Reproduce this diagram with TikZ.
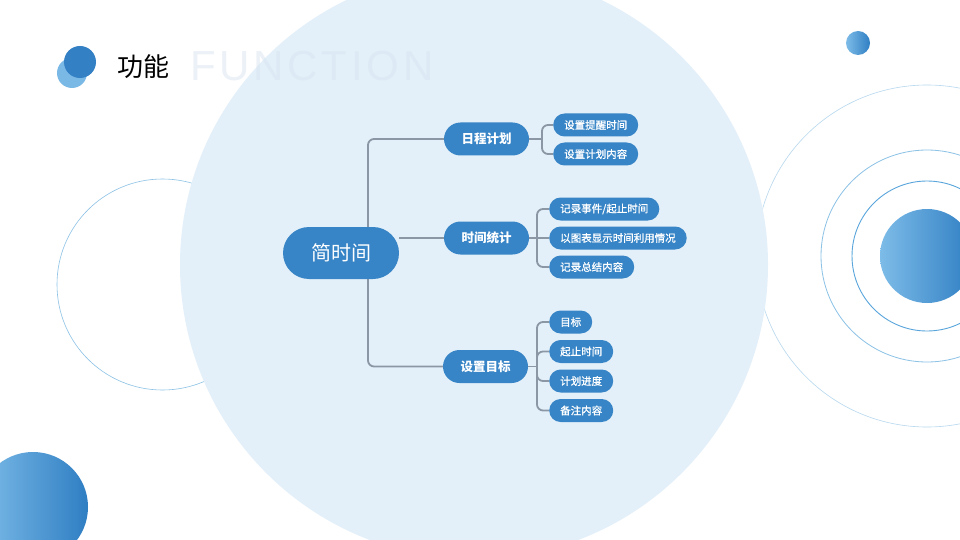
\documentclass[tikz,border=0pt]{standalone}
\usepackage{fontspec}
\newfontfamily\cjk{Noto Sans CJK SC}
\newfontfamily\cjkmid[FakeBold=1]{Noto Sans CJK SC}
\newfontfamily\latinthin[LetterSpace=9]{Liberation Sans}
\definecolor{nodeblue}{HTML}{3784C6}
\definecolor{darkdot}{HTML}{3480C4}
\definecolor{lightdot}{HTML}{7AB8E6}
\definecolor{bigfill}{HTML}{E3F0F9}
\definecolor{conncol}{HTML}{8C97A5}
\definecolor{ringA}{HTML}{5AA6DC}
\definecolor{ringB}{HTML}{8CC2E6}
\definecolor{ringC}{HTML}{B8D8EE}
\definecolor{gradL}{HTML}{7DBCE8}
\definecolor{gradR}{HTML}{2F7EC3}
\definecolor{ghost}{HTML}{D8E4F0}
\pgfdeclarelayer{deco}
\pgfdeclarelayer{lines}
\pgfsetlayers{deco,lines,main}
\begin{document}
\begin{tikzpicture}[x=1pt,y=-1pt,
  rootnode/.style={fill=nodeblue, text=white, font=\cjk\fontsize{20}{22}\selectfont,
    minimum width=116pt, minimum height=52pt, rounded corners=26pt, inner sep=0pt},
  lonenode/.style={fill=nodeblue, text=white, font=\cjk\bfseries\fontsize{12.5}{14}\selectfont,
    minimum width=85pt, minimum height=33pt, rounded corners=16.5pt, inner sep=0pt},
  ltwonode/.style={fill=nodeblue, text=white, font=\cjkmid\fontsize{10.5}{12}\selectfont,
    minimum height=23pt, rounded corners=11.5pt, inner xsep=11pt, inner ysep=0pt, anchor=west},
  conn/.style={draw=conncol, line width=1.8pt, rounded corners=6pt},
  ring/.style={line width=0.6pt}
]
\useasboundingbox (0,0) rectangle (960,540);
\clip (0,0) rectangle (960,540);
\begin{pgfonlayer}{deco}
  \fill[white] (0,0) rectangle (960,540);
  \draw[ring, ringB] (162.5,284.5) circle[radius=105.5pt];
  \draw[ring, ringC] (927,256) circle[radius=171pt];
  \draw[ring, ringB, line width=0.8pt] (927,256) circle[radius=106pt];
  \draw[ring, ringA, line width=0.9pt] (927,256) circle[radius=75pt];
  \shade[left color=gradL, right color=gradR] (927,256) circle[radius=47pt];
  \shade[left color=gradL, right color=gradR] (858,43) circle[radius=12pt];
  \shade[left color=gradL, right color=gradR] (33,507) circle[radius=55pt];
  \fill[bigfill] (474,265) circle[radius=294pt];
  \fill[lightdot] (72,73) circle[radius=15pt];
  \fill[darkdot] (80,62) circle[radius=16pt];
\end{pgfonlayer}

\node[anchor=west, font=\cjk\fontsize{26}{28}\selectfont, text=black, inner sep=0pt] (title) at (117,67) {功能};
\node[anchor=base west, font=\latinthin\fontsize{42}{44}\selectfont, text=ghost, text opacity=0.5, inner sep=0pt] (ghosttitle) at (190,81) {FUNCTION};

\node[rootnode] (root) at (341,253) {简时间};
\node[lonenode] (p1) at (486.5,139) {日程计划};
\node[lonenode] (p2) at (486.5,238) {时间统计};
\node[lonenode] (p3) at (485.5,366.5) {设置目标};

\node[ltwonode] (c11) at (553,125) {设置提醒时间};
\node[ltwonode] (c12) at (553,154) {设置计划内容};

\node[ltwonode] (c21) at (549,209) {记录事件/起止时间};
\node[ltwonode] (c22) at (549,238) {以图表显示时间利用情况};
\node[ltwonode] (c23) at (549,267) {记录总结内容};

\node[ltwonode] (c31) at (549,322) {目标};
\node[ltwonode] (c32) at (549,351.5) {起止时间};
\node[ltwonode] (c33) at (549,381) {计划进度};
\node[ltwonode] (c34) at (549,410.5) {备注内容};

\coordinate (tk) at (368,253);
\coordinate (b1) at (542,139);
\coordinate (b2) at (537,238);
\coordinate (b3) at (537,366.5);

\begin{pgfonlayer}{lines}
  \draw[conn] (tk) |- (p1.west);
  \draw[conn] (tk) |- (p3.west);
  \draw[conn] (root.east |- p2.west) -- (p2.west);
  \draw[conn] (p1.east) -- (b1);
  \draw[conn] (b1) |- (c11.west);
  \draw[conn] (b1) |- (c12.west);
  \draw[conn] (p2.east) -- (b2);
  \draw[conn] (b2) |- (c21.west);
  \draw[conn] (b2) -- (c22.west);
  \draw[conn] (b2) |- (c23.west);
  \draw[conn] (p3.east) -- (b3);
  \draw[conn] (b3) |- (c31.west);
  \draw[conn] (b3) |- (c32.west);
  \draw[conn] (b3) |- (c33.west);
  \draw[conn] (b3) |- (c34.west);
\end{pgfonlayer}
\end{tikzpicture}
\end{document}
